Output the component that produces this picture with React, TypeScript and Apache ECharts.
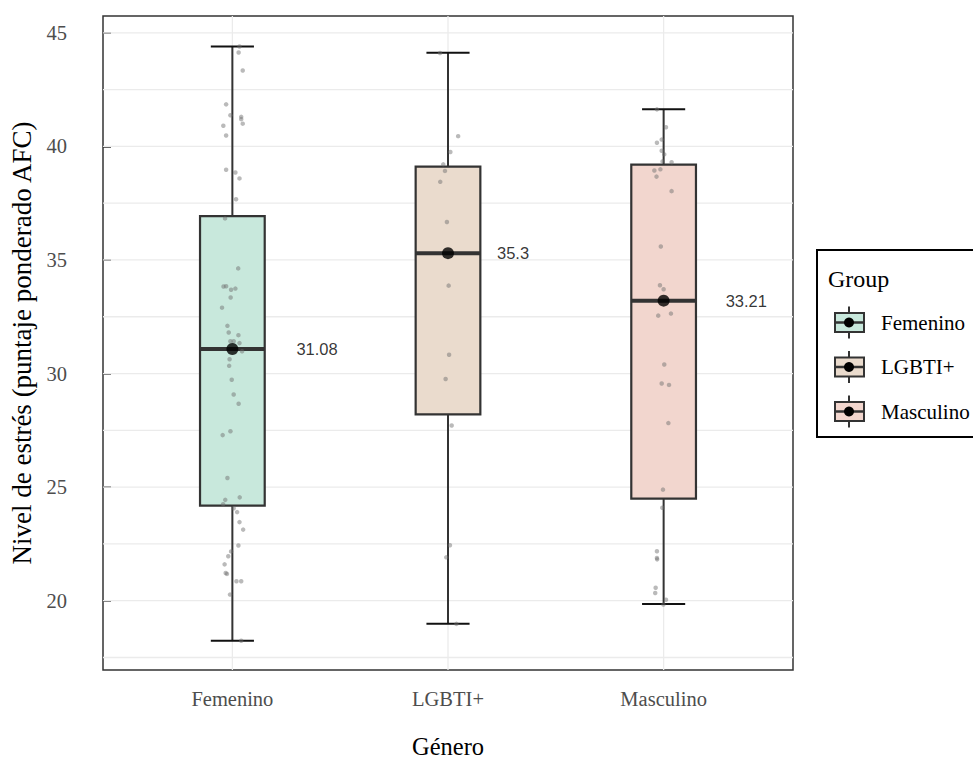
import React, { useEffect, useRef } from "react";
import * as echarts from "echarts";

const categories = ["Femenino", "LGBTI+", "Masculino"];
const whiskerLow = [18.24, 18.99, 19.85];
const q1 = [24.19, 28.2, 24.49];
const medians = [31.08, 35.3, 33.21];
const q3 = [36.93, 39.11, 39.2];
const whiskerHigh = [44.4, 44.12, 41.63];
const medianLabels = ["31.08", "35.3", "33.21"];
const yTicks = [20, 25, 30, 35, 40, 45];
const yGrid = [17.5, 20, 22.5, 25, 27.5, 30, 32.5, 35, 37.5, 40, 42.5, 45];

// [jitter offset from category centre, value]
const femeninoPoints = [
  [0.033, 44.4], [0.029, 44.13], [0.048, 43.34], [-0.029, 41.85], [-0.009, 41.37],
  [0.041, 41.3], [0.041, 41.2], [0.048, 41.0], [-0.042, 40.91], [-0.029, 40.48],
  [-0.029, 38.97], [0.014, 38.85], [0.033, 38.59], [0.017, 37.67], [-0.034, 36.83],
  [0.027, 34.63], [-0.041, 33.83], [-0.029, 33.84], [-0.006, 33.69], [0.014, 33.74],
  [-0.008, 33.35], [-0.048, 32.9], [-0.023, 32.1], [-0.017, 31.81], [0.028, 31.69],
  [-0.009, 31.42], [0.006, 31.42], [0.033, 31.34], [0.045, 30.98], [-0.013, 30.63],
  [-0.015, 30.34], [-0.003, 29.73], [0.006, 29.08], [0.029, 28.67], [-0.009, 27.46],
  [-0.045, 27.29], [-0.023, 25.4], [0.034, 24.55], [-0.033, 24.44], [-0.043, 24.25],
  [0.006, 24.07], [0.022, 23.9], [0.033, 23.46], [0.05, 23.13], [0.028, 22.43],
  [-0.006, 22.17], [-0.019, 21.96], [-0.036, 21.6], [-0.031, 21.22], [-0.025, 21.18],
  [0.019, 20.86], [0.041, 20.86], [-0.011, 20.27], [0.041, 18.24],
];
const lgbtiPoints = [
  [-0.037, 44.11], [0.047, 40.45], [0.011, 39.75], [-0.022, 39.21], [-0.014, 38.92],
  [-0.036, 38.44], [-0.005, 36.67], [0.003, 33.87], [0.005, 30.83], [-0.011, 29.76],
  [0.017, 27.71], [0.009, 22.44], [-0.008, 21.91], [0.039, 18.98],
];
const masculinoPoints = [
  [-0.031, 41.63], [0.011, 40.84], [-0.009, 40.3], [-0.031, 40.16], [-0.009, 39.81],
  [0.003, 39.65], [-0.005, 39.34], [0.037, 39.3], [-0.043, 38.94], [-0.015, 38.99],
  [-0.033, 38.67], [0.037, 38.03], [-0.013, 35.59], [-0.017, 33.89], [0.0, 33.71],
  [-0.025, 32.55], [0.034, 32.64], [0.003, 30.4], [-0.009, 29.56], [0.025, 29.5],
  [0.022, 27.82], [-0.003, 24.89], [-0.006, 24.09], [-0.031, 22.18], [-0.031, 21.88],
  [-0.03, 21.82], [-0.037, 20.57], [-0.039, 20.34], [0.011, 20.04], [-0.001, 19.83],
];
const groupPoints = [femeninoPoints, lgbtiPoints, masculinoPoints];

// styles
const BOX_FILLS = ["#c8e8dc", "#eadbcd", "#f2d6ce"];
const LABEL_DIST = [58, 43, 56];
const SERIF = "'Liberation Serif', 'Times New Roman', serif";
const SANS = "'Liberation Sans', Arial, sans-serif";
const X_MIN = 0.4;
const X_MAX = 3.6;
const Y_MIN = 16.95;
const Y_MAX = 45.74;

export default function App() {
  const ref = useRef<HTMLDivElement>(null);
  useEffect(() => {
    document.body.style.margin = "0";
    if (!ref.current) return;
    const chart = echarts.init(ref.current, null, { renderer: "svg" });

    const boxData = categories.map((_, i) => [
      i + 1, whiskerLow[i], q1[i], medians[i], q3[i], whiskerHigh[i],
    ]);
    const jitterData: number[][] = [];
    groupPoints.forEach((pts, i) => {
      pts.forEach(([dx, v]) => jitterData.push([i + 1 + dx, v]));
    });

    const legendItems: any[] = [];
    const legendY = [322.5, 367, 411.5];
    categories.forEach((c, i) => {
      const cy = legendY[i];
      legendItems.push(
        { type: "line", shape: { x1: 849, y1: cy - 16, x2: 849, y2: cy + 16 }, style: { stroke: "#333", lineWidth: 2 } },
        { type: "rect", shape: { x: 835, y: cy - 9.5, width: 29, height: 19 }, style: { fill: BOX_FILLS[i], stroke: "#333", lineWidth: 2 } },
        { type: "line", shape: { x1: 835, y1: cy, x2: 864, y2: cy }, style: { stroke: "#333", lineWidth: 2.5 } },
        { type: "circle", shape: { cx: 849, cy, r: 5 }, style: { fill: "#000" } },
        { type: "text", x: 881, y: cy, style: { text: c, font: `21px ${SERIF}`, fill: "#000", verticalAlign: "middle", align: "left" } }
      );
    });

    const option: any = {
      animation: false,
      backgroundColor: "#fff",
      grid: {
        left: 103, top: 16, width: 690, height: 666,
        show: true, borderColor: "#333", borderWidth: 1.5, backgroundColor: "transparent",
      },
      xAxis: {
        type: "value", min: X_MIN, max: X_MAX,
        splitLine: { show: false }, axisLine: { show: false }, axisTick: { show: false },
        axisLabel: {
          customValues: [1, 2, 3],
          formatter: (v: number) => categories[Math.round(v) - 1] ?? "",
          color: "#4d4d4d", fontFamily: SERIF, fontSize: 20.5, margin: 18,
        },
        name: "Género", nameLocation: "middle", nameGap: 64,
        nameTextStyle: { fontFamily: SERIF, fontSize: 24.5, color: "#000" },
      },
      yAxis: {
        type: "value", min: Y_MIN, max: Y_MAX,
        splitLine: { show: false }, axisLine: { show: false },
        axisTick: { show: true, inside: true, length: 8, customValues: yTicks, lineStyle: { color: "#333", width: 1.5 } },
        axisLabel: { customValues: yTicks, color: "#4d4d4d", fontFamily: SERIF, fontSize: 20.5, margin: 36 },
        name: "Nivel de estrés (puntaje ponderado AFC)", nameLocation: "middle", nameGap: 63,
        nameTextStyle: { fontFamily: SERIF, fontSize: 27, color: "#000" },
      },
      series: [
        {
          type: "custom", z: 1, silent: true,
          data: yGrid.map((v) => [X_MIN, v]),
          encode: { x: 0, y: 1 },
          renderItem: (params: any, api: any) => {
            const p = api.coord([api.value(0), api.value(1)]);
            const cs = params.coordSys;
            return { type: "line", shape: { x1: cs.x, y1: p[1], x2: cs.x + cs.width, y2: p[1] }, style: { stroke: "#ebebeb", lineWidth: 1.3 } };
          },
        },
        {
          type: "custom", z: 1, silent: true,
          data: categories.map((_, i) => [i + 1, Y_MIN]),
          encode: { x: 0, y: 1 },
          renderItem: (params: any, api: any) => {
            const p = api.coord([api.value(0), api.value(1)]);
            const cs = params.coordSys;
            return { type: "line", shape: { x1: p[0], y1: cs.y, x2: p[0], y2: cs.y + cs.height }, style: { stroke: "#ebebeb", lineWidth: 1.3 } };
          },
        },
        {
          type: "custom", z: 2, silent: true,
          data: boxData,
          encode: { x: 0, y: [1, 2, 3, 4, 5] },
          renderItem: (params: any, api: any) => {
            const x = api.value(0);
            const lo = api.coord([x, api.value(1)]);
            const b1 = api.coord([x, api.value(2)]);
            const md = api.coord([x, api.value(3)]);
            const b3 = api.coord([x, api.value(4)]);
            const hi = api.coord([x, api.value(5)]);
            const bw = api.size([0.3, 0])[0];
            const cw = api.size([0.2, 0])[0];
            const cx = lo[0];
            const idx = params.dataIndex;
            return {
              type: "group",
              children: [
                { type: "line", shape: { x1: cx, y1: hi[1], x2: cx, y2: b3[1] }, style: { stroke: "#333", lineWidth: 2 } },
                { type: "line", shape: { x1: cx, y1: b1[1], x2: cx, y2: lo[1] }, style: { stroke: "#333", lineWidth: 2 } },
                { type: "line", shape: { x1: cx - cw / 2, y1: hi[1], x2: cx + cw / 2, y2: hi[1] }, style: { stroke: "#111", lineWidth: 2 } },
                { type: "line", shape: { x1: cx - cw / 2, y1: lo[1], x2: cx + cw / 2, y2: lo[1] }, style: { stroke: "#111", lineWidth: 2 } },
                { type: "rect", shape: { x: cx - bw / 2, y: b3[1], width: bw, height: b1[1] - b3[1] }, style: { fill: BOX_FILLS[idx], stroke: "#333", lineWidth: 2.2 } },
                { type: "line", shape: { x1: cx - bw / 2, y1: md[1], x2: cx + bw / 2, y2: md[1] }, style: { stroke: "#333", lineWidth: 4 } },
              ],
            };
          },
        },
        {
          type: "scatter", z: 3, silent: true,
          data: jitterData,
          symbol: "circle", symbolSize: 4.5,
          itemStyle: { color: "rgba(110,110,110,0.6)" },
        },
        {
          type: "scatter", z: 4, silent: true,
          data: medians.map((m, i) => ({
            value: [i + 1, m],
            label: { distance: LABEL_DIST[i] },
          })),
          symbol: "circle", symbolSize: 12,
          itemStyle: { color: "#000" },
          label: {
            show: true, position: "right",
            formatter: (p: any) => medianLabels[p.dataIndex],
            fontFamily: SANS, fontSize: 16.5, color: "#000",
          },
        },
      ],
      graphic: [
        {
          type: "group",
          children: [
            { type: "rect", shape: { x: 817, y: 250, width: 170, height: 187 }, style: { fill: "#fff", stroke: "#000", lineWidth: 2 } },
            { type: "text", x: 828, y: 279, style: { text: "Group", font: `24px ${SERIF}`, fill: "#000", verticalAlign: "middle", align: "left" } },
            ...legendItems,
          ],
        },
      ],
    };
    chart.setOption(option);
    return () => chart.dispose();
  }, []);
  return <div ref={ref} style={{ width: 973, height: 764 }} />;
}
